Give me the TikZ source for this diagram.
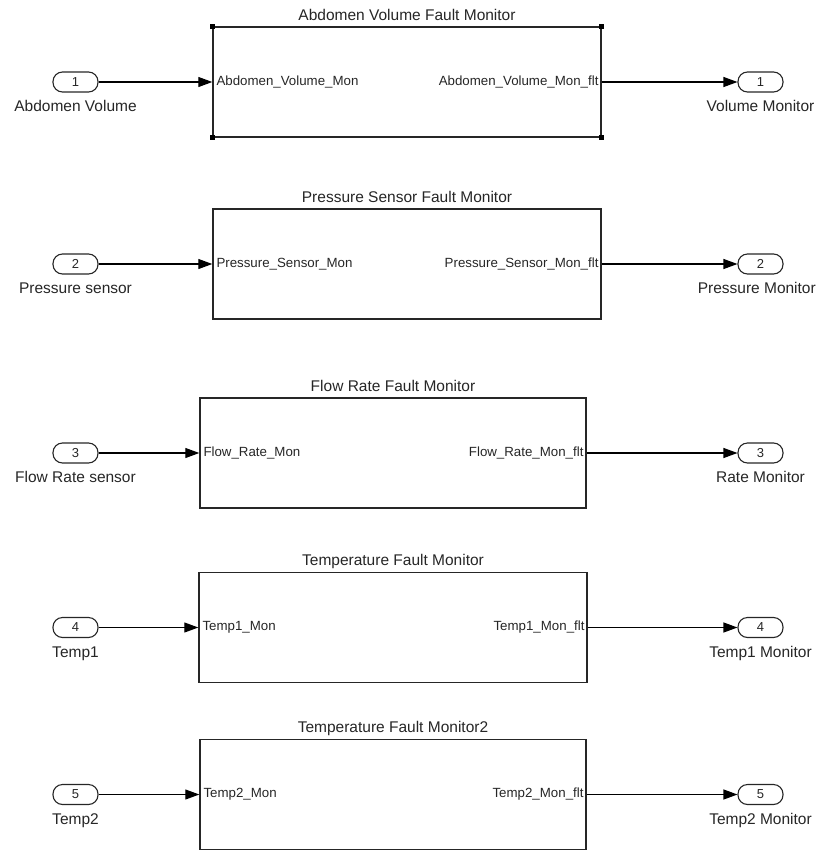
\documentclass[tikz,border=0pt]{standalone}
\usepackage{fontspec}
\setmainfont{Liberation Sans}
\usetikzlibrary{arrows.meta}
\definecolor{ink}{HTML}{262626}
\begin{document}
\begin{tikzpicture}[x=1pt,y=-1pt,
  blk/.style={draw=ink, line width=1.4pt, minimum width=388pt, minimum height=110pt, inner sep=0pt},
  port/.style={draw=ink, line width=1.1pt, rounded corners=9.5pt, minimum width=45pt, minimum height=20pt, inner sep=0pt, text=ink, font=\fontsize{13}{13}\selectfont},
  ttl/.style={inner sep=0pt, text=ink, font=\fontsize{15.5}{16}\selectfont},
  lbl/.style={inner sep=0pt, text=ink, font=\fontsize{15.5}{16}\selectfont},
  plbl/.style={inner sep=0pt, text=ink, font=\fontsize{13.3}{14}\selectfont},
  wire/.style={draw=black, line width=1.1pt, -{Triangle[length=14pt,width=10pt]}},
  handle/.style={fill=black}
]
\useasboundingbox (0,0) rectangle (817,852);

% ---------- Row 1 ----------
\node[blk] (b1) at (407,82) {};
\path (b1.north) ++(0,-6) node[ttl,anchor=base] (t1) {Abdomen Volume Fault Monitor};
\node[plbl,anchor=west] (i1) at ([xshift=4pt]b1.west) {Abdomen\_Volume\_Mon};
\node[plbl,anchor=east] (o1) at ([xshift=-3pt]b1.east) {Abdomen\_Volume\_Mon\_flt};
\node[port] (p1) at (75.5,82) {1};
\node[lbl,anchor=base] (l1) at ([yshift=-19pt]p1.south) {Abdomen Volume};
\node[port] (q1) at (760.5,82) {1};
\node[lbl,anchor=base] (m1) at ([yshift=-19pt]q1.south) {Volume Monitor};
\draw[wire] (p1.east) -- (b1.west);
\draw[wire] (b1.east) -- (q1.west);
\foreach \c in {north west,north east,south west,south east}
  \fill[handle] (b1.\c) ++(-2.5,-2.5) rectangle ++(5,5);

% ---------- Row 2 ----------
\node[blk] (b2) at (407,264) {};
\path (b2.north) ++(0,-6) node[ttl,anchor=base] (t2) {Pressure Sensor Fault Monitor};
\node[plbl,anchor=west] (i2) at ([xshift=4pt]b2.west) {Pressure\_Sensor\_Mon};
\node[plbl,anchor=east] (o2) at ([xshift=-3pt]b2.east) {Pressure\_Sensor\_Mon\_flt};
\node[port] (p2) at (75.5,264) {2};
\node[lbl,anchor=base] (l2) at ([yshift=-19pt]p2.south) {Pressure sensor};
\node[port] (q2) at (760.5,264) {2};
\node[lbl,anchor=base east] (m2) at ([yshift=-19pt]q2.south -| 816,0) {Pressure Monitor};
\draw[wire] (p2.east) -- (b2.west);
\draw[wire] (b2.east) -- (q2.west);

% ---------- Row 3 ----------
\node[blk, minimum width=386pt] (b3) at (393,453) {};
\path (b3.north) ++(0,-6) node[ttl,anchor=base] (t3) {Flow Rate Fault Monitor};
\node[plbl,anchor=west] (i3) at ([xshift=4pt]b3.west) {Flow\_Rate\_Mon};
\node[plbl,anchor=east] (o3) at ([xshift=-3pt]b3.east) {Flow\_Rate\_Mon\_flt};
\node[port] (p3) at (75.5,453) {3};
\node[lbl,anchor=base] (l3) at ([yshift=-19pt]p3.south) {Flow Rate sensor};
\node[port] (q3) at (760.5,453) {3};
\node[lbl,anchor=base] (m3) at ([yshift=-19pt]q3.south) {Rate Monitor};
\draw[wire] (p3.east) -- (b3.west);
\draw[wire] (b3.east) -- (q3.west);

% ---------- Row 4 ----------
\node[blk] (b4) at (393,627.5) {};
\path (b4.north) ++(0,-6) node[ttl,anchor=base] (t4) {Temperature Fault Monitor};
\node[plbl,anchor=west] (i4) at ([xshift=4pt]b4.west) {Temp1\_Mon};
\node[plbl,anchor=east] (o4) at ([xshift=-3pt]b4.east) {Temp1\_Mon\_flt};
\node[port] (p4) at (75.5,627.5) {4};
\node[lbl,anchor=base] (l4) at ([yshift=-19pt]p4.south) {Temp1};
\node[port] (q4) at (760.5,627.5) {4};
\node[lbl,anchor=base] (m4) at ([yshift=-19pt]q4.south) {Temp1 Monitor};
\draw[wire] (p4.east) -- (b4.west);
\draw[wire] (b4.east) -- (q4.west);

% ---------- Row 5 ----------
\node[blk, minimum width=386pt] (b5) at (393,794.5) {};
\path (b5.north) ++(0,-6) node[ttl,anchor=base] (t5) {Temperature Fault Monitor2};
\node[plbl,anchor=west] (i5) at ([xshift=4pt]b5.west) {Temp2\_Mon};
\node[plbl,anchor=east] (o5) at ([xshift=-3pt]b5.east) {Temp2\_Mon\_flt};
\node[port] (p5) at (75.5,794.5) {5};
\node[lbl,anchor=base] (l5) at ([yshift=-19pt]p5.south) {Temp2};
\node[port] (q5) at (760.5,794.5) {5};
\node[lbl,anchor=base] (m5) at ([yshift=-19pt]q5.south) {Temp2 Monitor};
\draw[wire] (p5.east) -- (b5.west);
\draw[wire] (b5.east) -- (q5.west);
\end{tikzpicture}
\end{document}
